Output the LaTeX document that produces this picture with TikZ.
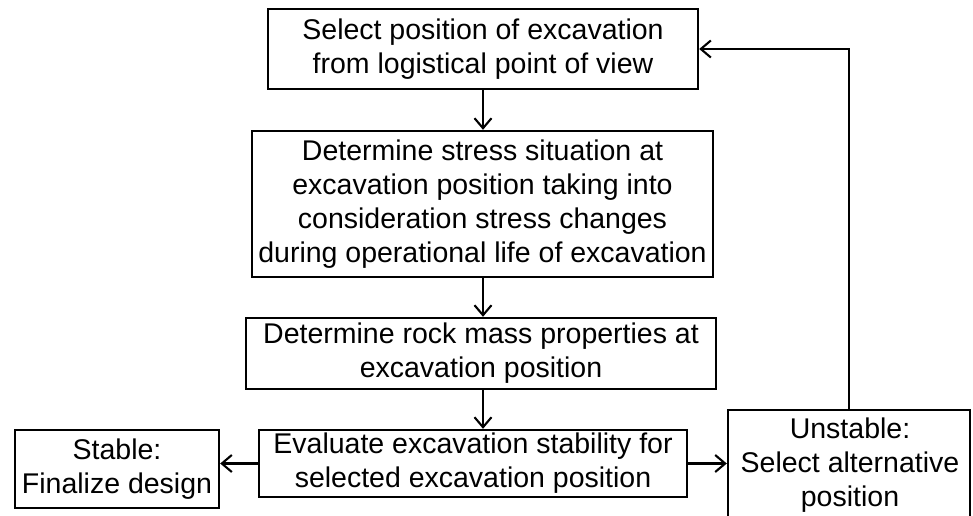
\documentclass[tikz,border=0pt]{standalone}
\usepackage{fontspec}
\setmainfont{Liberation Sans}
\usetikzlibrary{arrows.meta}
\begin{document}
\begin{tikzpicture}[x=1pt,y=-1pt,
  box/.style={draw=black, line width=2.4pt, inner sep=0pt, align=center, font=\fontsize{28.5}{34}\selectfont},
  txt/.style={inner sep=0pt, align=center, font=\fontsize{28.5}{34}\selectfont},
  arr/.style={line width=2.1pt, -{Straight Barb[length=10pt,width=17pt,line width=2.1pt]}}]
\useasboundingbox (0,0) rectangle (973,515);
\clip (0,0) rectangle (973,515);
\node[box, minimum width=430, minimum height=80] (b1) at (483,49)
  {Select position of excavation\\from logistical point of view};
\node[box, minimum width=461, minimum height=146] (b2) at (482.5,204)
  {Determine stress situation at\\excavation position taking into\\consideration stress changes\\during operational life of excavation};
\node[box, minimum width=470, minimum height=71] (b3) at (481,353.5)
  {Determine rock mass properties at\\excavation position};
\node[box, minimum width=428, minimum height=67] (b4) at (473,463.5)
  {Evaluate excavation stability for\\selected excavation position};
\node[box, minimum width=204, minimum height=78] (st) at (117,469)
  {Stable:\\Finalize design};
\node[box, minimum width=242, minimum height=120] (un) at (849,470) {};
\node[txt] (unt) at (850,465) {Unstable:\\Select alternative\\position};
\draw[arr] (b1.south) -- (b1.south |- b2.north);
\draw[arr] (b2.south -| b1.south) -- (b3.north -| b1.south);
\draw[arr] (b3.south -| b1.south) -- (b4.north -| b1.south);
\draw[arr] (b4.west) -- (b4.west -| st.east);
\draw[arr] (b4.east) -- (b4.east -| un.west);
\draw[arr] (un.north) |- (b1.east);
\end{tikzpicture}
\end{document}
